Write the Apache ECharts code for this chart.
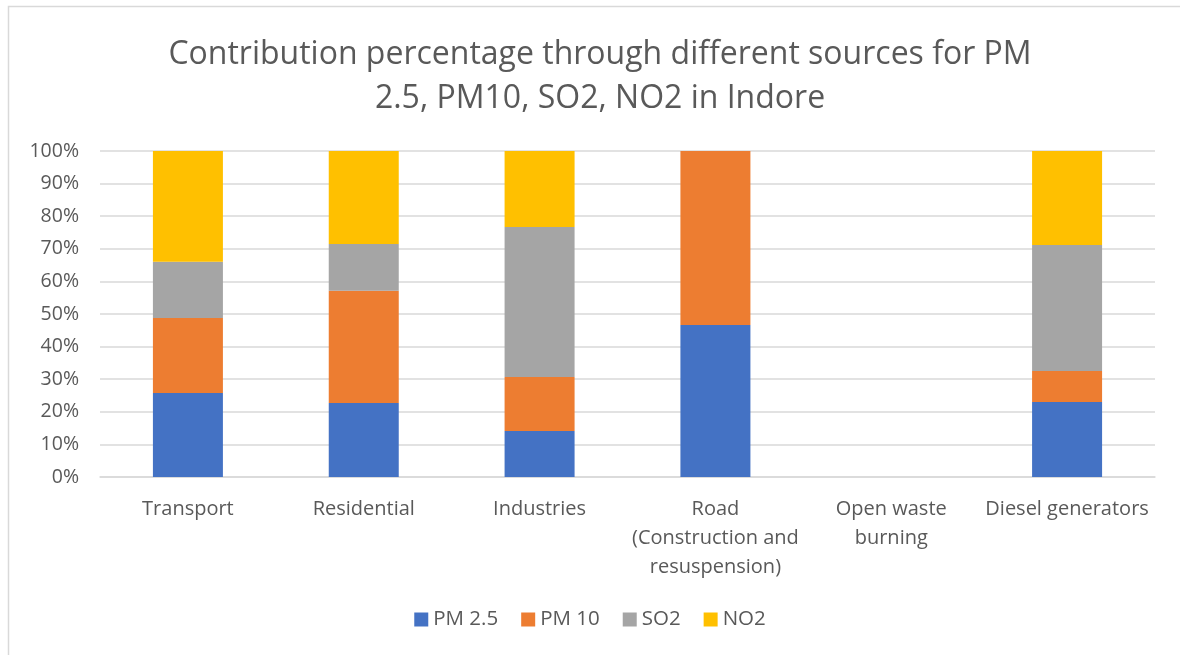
<!DOCTYPE html>
<html>
<head>
<meta charset="utf-8">
<script src="https://cdn.jsdelivr.net/npm/echarts@6/dist/echarts.min.js"></script>
<style>
  html, body { margin: 0; padding: 0; background: #fff; }
  #chart { width: 1180px; height: 655px; }
</style>
</head>
<body>
<div id="chart"></div>
<script>
var categories = ['Transport', 'Residential', 'Industries', 'Road\n(Construction and\nresuspension)', 'Open waste\nburning', 'Diesel generators'];
var pm25 = [25.8, 22.7, 14.1, 46.6, 0, 23.0];
var pm10 = [23.0, 34.4, 16.6, 53.4, 0, 9.5];
var so2 = [17.2, 14.4, 46.0, 0, 0, 38.7];
var no2 = [34.0, 28.5, 23.3, 0, 0, 28.8];
var seriesNames = ['PM 2.5', 'PM 10', 'SO2', 'NO2'];
var colors = ['#4472c4', '#ed7d31', '#a5a5a5', '#ffc000'];

var font = '"Open Sans", sans-serif';
var chart = echarts.init(document.getElementById('chart'));

function bar(name, data) {
    return {
        name: name,
        type: 'bar',
        stack: 'total',
        barWidth: 70,
        data: data
    };
}

chart.setOption({
    color: colors,
    animation: false,
    textStyle: { fontFamily: font },
    graphic: [{
        type: 'rect',
        shape: { x: 8.5, y: 6.5, width: 1200, height: 700 },
        style: { fill: 'none', stroke: '#d9d9d9', lineWidth: 1.5 },
        silent: true
    }],
    title: {
        text: 'Contribution percentage through different sources for PM\n2.5, PM10, SO2, NO2 in Indore',
        left: 595,
        top: 28,
        textAlign: 'center',
        textStyle: {
            fontFamily: font,
            fontSize: 32,
            fontWeight: 'normal',
            color: '#595959',
            lineHeight: 44
        }
    },
    legend: {
        data: seriesNames,
        bottom: 20,
        left: 'center',
        itemWidth: 14,
        itemHeight: 14,
        itemGap: 23,
        icon: 'rect',
        textStyle: { fontSize: 20.5, color: '#595959', fontFamily: font }
    },
    grid: {
        left: 100,
        right: 25,
        top: 151,
        bottom: 178,
        containLabel: false
    },
    xAxis: {
        type: 'category',
        data: categories,
        axisLine: { lineStyle: { color: '#d9d9d9', width: 1.5 } },
        axisTick: { show: false },
        axisLabel: {
            interval: 0,
            fontSize: 20,
            color: '#595959',
            lineHeight: 29,
            margin: 18,
            fontFamily: font
        }
    },
    yAxis: {
        type: 'value',
        min: 0,
        max: 100,
        interval: 10,
        axisLine: { show: false },
        axisTick: { show: false },
        splitLine: { lineStyle: { color: '#d9d9d9', width: 1.5 } },
        axisLabel: {
            formatter: '{value}%',
            fontSize: 19.5,
            color: '#595959',
            margin: 21,
            fontFamily: font
        }
    },
    series: [
        bar(seriesNames[0], pm25),
        bar(seriesNames[1], pm10),
        bar(seriesNames[2], so2),
        bar(seriesNames[3], no2)
    ]
});
</script>
</body>
</html>
